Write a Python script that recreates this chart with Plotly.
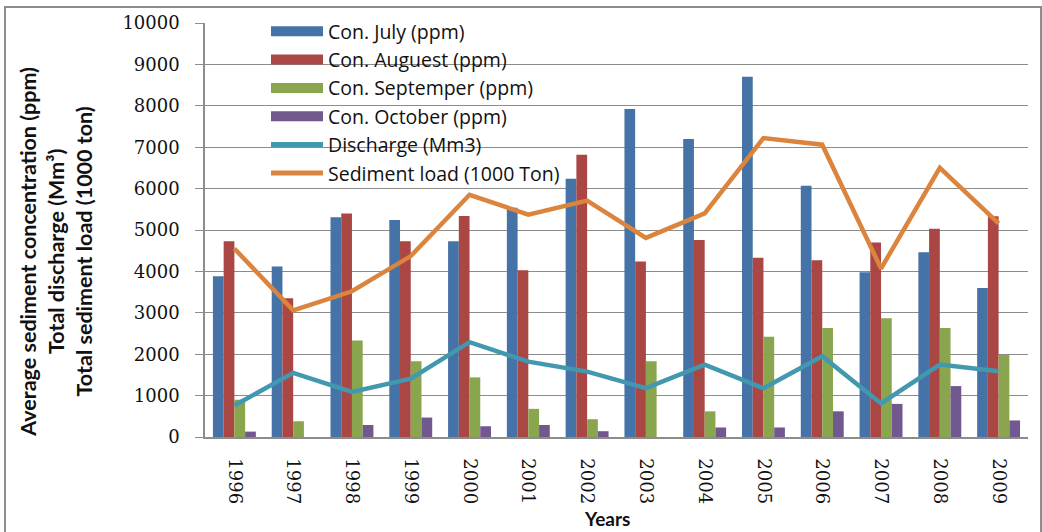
import plotly.graph_objects as go

years = ["1996", "1997", "1998", "1999", "2000", "2001", "2002",
         "2003", "2004", "2005", "2006", "2007", "2008", "2009"]
con_july = [3880, 4120, 5310, 5240, 4730, 5540, 6240, 7920, 7200, 8700, 6070, 3980, 4460, 3600]
con_august = [4730, 3350, 5400, 4730, 5340, 4030, 6820, 4240, 4760, 4330, 4270, 4700, 5030, 5330]
con_september = [900, 380, 2330, 1830, 1440, 680, 430, 1830, 620, 2420, 2630, 2870, 2630, 1980]
con_october = [130, 0, 290, 470, 260, 290, 140, 0, 230, 230, 620, 800, 1230, 400]
discharge = [760, 1550, 1090, 1410, 2290, 1820, 1580, 1180, 1750, 1180, 1950, 810, 1750, 1590]
sediment = [4550, 3060, 3520, 4370, 5850, 5370, 5710, 4810, 5400, 7220, 7060, 4070, 6500, 5160]

bar_series = [
    ("Con. July (ppm)", con_july, "#4572A7"),
    ("Con. Auguest (ppm)", con_august, "#AA4643"),
    ("Con. Septemper (ppm)", con_september, "#89A54E"),
    ("Con. October (ppm)", con_october, "#71588F"),
]
line_series = [
    ("Discharge (Mm3)", discharge, "#4198AF"),
    ("Sediment load (1000 Ton)", sediment, "#DB843D"),
]

fig = go.Figure()
for name, vals, c in bar_series:
    fig.add_trace(go.Bar(x=years, y=vals, name=name, showlegend=False,
                         marker=dict(color=c, line=dict(width=0))))
for name, vals, c in line_series:
    fig.add_trace(go.Scatter(x=years, y=vals, name=name, mode="lines", showlegend=False,
                             line=dict(color=c, width=4.5)))

# legend entries (rectangular swatches for the bars, thick lines for the lines)
for i, (name, vals, c) in enumerate(bar_series):
    fig.add_trace(go.Scatter(x=[None], y=[None], name=name, mode="lines", legendgroup=f"g{i}",
                             line=dict(color=c, width=13)))
for j, (name, vals, c) in enumerate(line_series):
    fig.add_trace(go.Scatter(x=[None], y=[None], name=name, mode="lines", legendgroup=f"h{j}",
                             line=dict(color=c, width=5)))

grid = "#8C8C8C"
L, R, T, B = 205, 14, 23, 94.5
W, H = 1042, 532
pw, ph = W - L - R, H - T - B

def px2x(px):
    return (px - L) / pw

def px2y(py):
    return (H - B - py) / ph

fig.update_layout(
    width=W, height=H,
    margin=dict(l=L, r=R, t=T, b=B, autoexpand=False),
    paper_bgcolor="white", plot_bgcolor="white",
    barmode="group", bargap=0.27, bargroupgap=0,
    showlegend=True,
    legend=dict(x=px2x(266), y=px2y(12), xanchor="left", yanchor="top",
                bgcolor="rgba(0,0,0,0)", font=dict(family="Open Sans", size=19.5, color="#111"),
                itemwidth=52, tracegroupgap=0),
    xaxis=dict(type="category", showgrid=False, showline=True, linecolor=grid, linewidth=1.5,
               ticks="", tickangle=90, ticklabelstandoff=16, automargin=False,
               tickfont=dict(family="DejaVu Serif", size=18, color="#111")),
    yaxis=dict(range=[0, 10000], dtick=1000, tickformat="d", showgrid=True, gridcolor=grid,
               gridwidth=1, showline=True, linecolor=grid, linewidth=1.5, ticks="outside",
               ticklen=8, tickcolor=grid, ticklabelstandoff=12, automargin=False,
               tickfont=dict(family="DejaVu Serif", size=18, color="#111"), zeroline=False),
)

fig.add_annotation(
    text="Average sediment concentration (ppm)<br>Total discharge (Mm³)<br>Total sediment load (1000 ton)",
    xref="paper", yref="paper", x=px2x(56), y=px2y(252), xanchor="center", yanchor="middle",
    textangle=-90, showarrow=False, font=dict(family="Lato", size=21.5, color="#111", weight="bold"),
)
fig.add_annotation(
    text="Years", xref="paper", yref="paper", x=px2x(607), y=px2y(519),
    xanchor="center", yanchor="middle", showarrow=False,
    font=dict(family="Lato", size=19, color="#111", weight="bold"),
)
fig.add_shape(type="rect", xref="paper", yref="paper",
              x0=px2x(5), x1=px2x(1041), y0=px2y(545), y1=px2y(7),
              line=dict(color="#8C8C8C", width=2), layer="below")

fig.write_html("out.html", config={"displayModeBar": False},
               post_script="document.body.style.margin='0';")
